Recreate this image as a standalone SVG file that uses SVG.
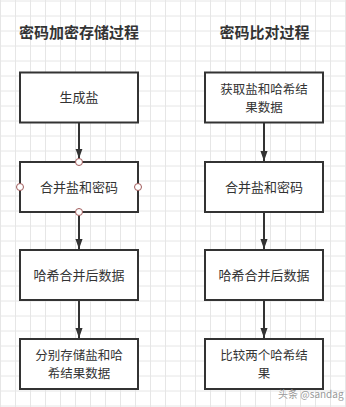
<svg xmlns="http://www.w3.org/2000/svg" width="346" height="407" viewBox="0 0 346 407">
<style>
.box{fill:#ffffff;stroke:#333333;stroke-width:2}
.t{font-family:"Noto Sans CJK SC","Noto Sans",sans-serif;font-size:13px;fill:#333333;text-anchor:middle}
.t2{font-size:12.5px}
.title{font-family:"Noto Sans CJK SC","Noto Sans",sans-serif;font-size:15px;font-weight:bold;fill:#333333;text-anchor:middle}
.edge{stroke:#333333;stroke-width:2;fill:none}
.pt{fill:#ffffff;stroke:#a05a5a;stroke-width:1}
.wm{font-family:"Noto Sans CJK SC","Noto Sans",sans-serif;font-size:10px;fill:#9a9a9a}
</style>
<defs>
<pattern id="grid" width="15" height="15" patternUnits="userSpaceOnUse">
<path d="M0.5 0V15M0 1H15" stroke="#e6e6e6" stroke-width="1" fill="none"/>
</pattern>
<marker id="arr" markerWidth="10" markerHeight="14" refX="14" refY="5" orient="auto" markerUnits="userSpaceOnUse" viewBox="0 0 14 10">
<path d="M0 0L14 5L0 10z" fill="#333333"/>
</marker>
</defs>
<rect width="346" height="407" fill="#ffffff"/>
<rect width="346" height="407" fill="url(#grid)"/>
<text class="title" x="79" y="38">密码加密存储过程</text>
<text class="title" x="264.5" y="38">密码比对过程</text>
<g id="connectors">
<path class="edge" d="M79 123V158.5" marker-end="url(#arr)"/>
<path class="edge" d="M79 215.5V249" marker-end="url(#arr)"/>
<path class="edge" d="M79 301V338" marker-end="url(#arr)"/>
<path class="edge" d="M264 123V161" marker-end="url(#arr)"/>
<path class="edge" d="M264 213V249" marker-end="url(#arr)"/>
<path class="edge" d="M264 301V338" marker-end="url(#arr)"/>
</g>
<g id="n1"><rect class="box" x="20" y="72.5" width="118" height="50"/><text class="t" x="79" y="102">生成盐</text></g>
<g id="n2"><rect class="box" x="20" y="162" width="118" height="50"/><text class="t" x="79" y="191.5">合并盐和密码</text>
<circle class="pt" cx="79" cy="162" r="3.5"/><circle class="pt" cx="20" cy="187" r="3.5"/><circle class="pt" cx="138" cy="187" r="3.5"/><circle class="pt" cx="79" cy="212" r="3.5"/></g>
<g id="n3"><rect class="box" x="20" y="250" width="118" height="50"/><text class="t" x="79" y="280">哈希合并后数据</text></g>
<g id="n4"><rect class="box" x="20" y="339" width="118" height="50"/><text class="t t2" x="79" y="359.5">分别存储盐和哈<tspan x="79" dy="18.5">希结果数据</tspan></text></g>
<g id="m1"><rect class="box" x="205" y="72.5" width="118" height="50"/><text class="t t2" x="264" y="93.5">获取盐和哈希结<tspan x="264" dy="18.5">果数据</tspan></text></g>
<g id="m2"><rect class="box" x="205" y="162" width="118" height="50"/><text class="t" x="264" y="191.5">合并盐和密码</text></g>
<g id="m3"><rect class="box" x="205" y="250" width="118" height="50"/><text class="t" x="264" y="280">哈希合并后数据</text></g>
<g id="m4"><rect class="box" x="205" y="339" width="118" height="50"/><text class="t t2" x="264" y="359.5">比较两个哈希结<tspan x="264" dy="18.5">果</tspan></text></g>
<text class="wm" x="278" y="398">头条 @sandag</text>
</svg>
